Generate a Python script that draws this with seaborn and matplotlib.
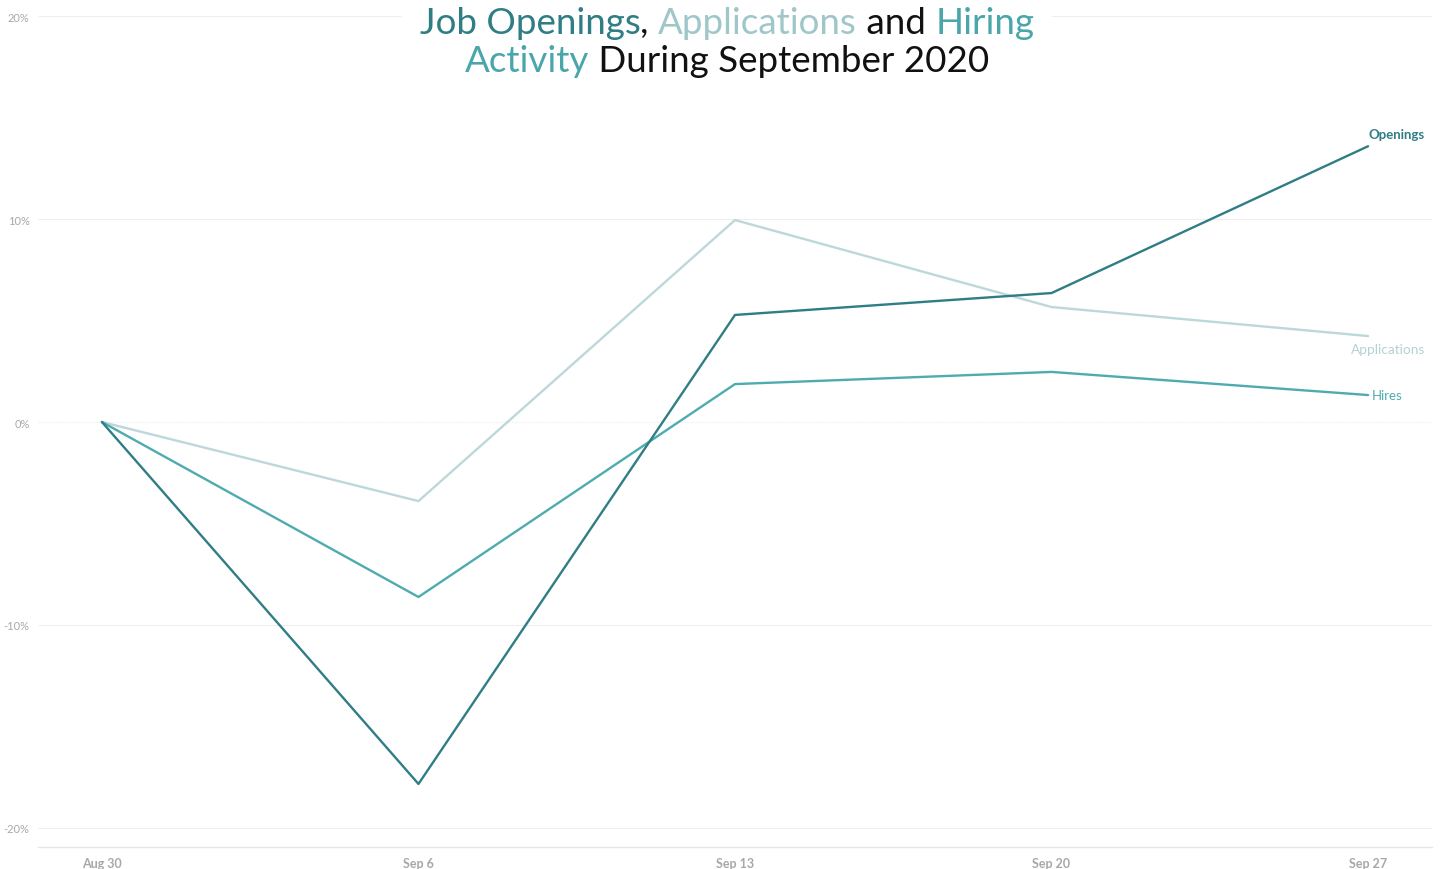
import matplotlib
matplotlib.use("Agg")
import matplotlib.pyplot as plt
import seaborn as sns
import pandas as pd
from matplotlib.ticker import FuncFormatter

weeks = ["Aug 30", "Sep 6", "Sep 13", "Sep 20", "Sep 27"]
openings = [0.0, -17.85, 5.28, 6.36, 13.6]
applications = [0.0, -3.9, 9.96, 5.67, 4.24]
hires = [0.0, -8.63, 1.87, 2.47, 1.33]
y_ticks = [-20, -10, 0, 10, 20]

series = {"Openings": openings, "Applications": applications, "Hires": hires}
colors = {"Openings": "#2f7d85", "Applications": "#bcd8da", "Hires": "#4eabb0"}

rows = []
for name, vals in series.items():
    for i, (w, v) in enumerate(zip(weeks, vals)):
        rows.append({"idx": i, "week": w, "value": v, "series": name})
df = pd.DataFrame(rows)

sns.set_theme(style="white")
plt.rcParams["font.family"] = ["Lato", "DejaVu Sans"]

fig = plt.figure(figsize=(14.47, 8.70), dpi=100)
W, H = 1447, 870
ax = fig.add_axes([38 / W, 22 / H, (1432 - 38) / W, (858 - 22) / H])

sns.lineplot(data=df, x="idx", y="value", hue="series", palette=colors,
             hue_order=["Applications", "Hires", "Openings"],
             linewidth=1.7, ax=ax, legend=False, sort=False)

ax.set_xlim(-0.202, 4.202)
ax.set_ylim(-20.96, 20.27)
ax.set_xticks(range(len(weeks)))
ax.set_xticklabels(weeks)
ax.set_yticks(y_ticks)
ax.yaxis.set_major_formatter(FuncFormatter(lambda v, p: f"{int(v)}%"))
ax.set_xlabel("")
ax.set_ylabel("")

for s in ["top", "right", "left"]:
    ax.spines[s].set_visible(False)
ax.spines["bottom"].set_color("#e6e6e6")
ax.spines["bottom"].set_linewidth(1)

for v in y_ticks:
    ax.axhline(v, color="#efefef", linewidth=0.8, zorder=0,
               linestyle=(0, (1, 1)) if v == 0 else "-")

ax.tick_params(axis="y", length=0, labelsize=8, labelcolor="#a8a8a8", pad=6)
ax.tick_params(axis="x", length=2, color="#e6e6e6", labelsize=9, labelcolor="#a8a8a8", pad=5)
for lbl in ax.get_xticklabels():
    lbl.set_fontweight("bold")

# end labels
ax.annotate("Openings", xy=(4, openings[-1]), xytext=(0, 9), textcoords="offset points",
            ha="left", va="center", fontsize=9.5, color=colors["Openings"], fontweight="bold")
ax.annotate("Applications", xy=(4, applications[-1]), xytext=(-12, -9), textcoords="offset points",
            ha="left", va="center", fontsize=9.8, color="#b3d2d4")
ax.annotate("Hires", xy=(4, hires[-1]), xytext=(3, 0), textcoords="offset points",
            ha="left", va="center", fontsize=9.5, color=colors["Hires"])

# multi-colored title
title_lines = [
    [("Job Openings", "#2f7d85"), (", ", "#111111"), ("Applications", "#9fc6c9"),
     (" and ", "#111111"), ("Hiring", "#4aa6ab")],
    [("Activity", "#4aa6ab"), (" During September 2020", "#111111")],
]
line_y = [23, 61]
fig.canvas.draw()
renderer = fig.canvas.get_renderer()
for parts, yc in zip(title_lines, line_y):
    texts = []
    for s, c in parts:
        t = fig.text(0, 1 - yc / H, s, color=c, fontsize=26.5, va="center", ha="left")
        texts.append(t)
    widths = [t.get_window_extent(renderer).width for t in texts]
    total = sum(widths)
    x0 = 727 - total / 2
    x = x0
    for t, w in zip(texts, widths):
        t.set_x(x / W)
        x += w
    fig.add_artist(plt.Rectangle(((x0 - 18) / W, 1 - (yc + 20) / H), (total + 36) / W, 40 / H,
                                 transform=fig.transFigure, facecolor="white",
                                 edgecolor="none", zorder=2))
    for t in texts:
        t.set_zorder(3)

fig.savefig("out.png", dpi=100)
